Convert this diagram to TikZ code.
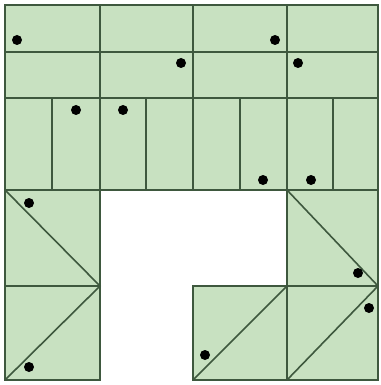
\documentclass[tikz,border=0pt]{standalone}
\usepackage{tikz}

\definecolor{cellgreen}{RGB}{200,225,193}
\definecolor{gridline}{RGB}{62,88,62}

\tikzset{
  grid line/.style={gridline, line width=1.6pt},
  token/.style={fill=black}
}

\begin{document}
\begin{tikzpicture}[x=1pt, y=-1pt]
  \useasboundingbox (0,0) rectangle (380,385);
  % green region
  \fill[cellgreen] (5,5) -- (378,5) -- (378,380) -- (193,380) -- (193,286)
    -- (287,286) -- (287,190) -- (100,190) -- (100,380) -- (5,380) -- cycle;
  % top two rows
  \draw[grid line] (5,52) -- (378,52);
  \draw[grid line] (5,98) -- (378,98);
  \foreach \x in {100,193,287}
    \draw[grid line] (\x,5) -- (\x,98);
  % half columns
  \foreach \x in {52,100,146,193,240,287,333}
    \draw[grid line] (\x,98) -- (\x,190);
  \draw[grid line] (5,190) -- (378,190);
  % lower left block
  \draw[grid line] (5,286) -- (100,286);
  \draw[grid line] (5,190) -- (100,286) -- (5,380);
  % lower right block
  \draw[grid line] (193,286) -- (378,286);
  \draw[grid line] (287,190) -- (287,380);
  \draw[grid line] (287,190) -- (378,286);
  \draw[grid line] (287,286) -- (193,380);
  \draw[grid line] (378,286) -- (287,380);
  % outline
  \draw[grid line, line width=2pt, line join=miter] (5,5) -- (378,5) -- (378,380) -- (193,380) -- (193,286)
    -- (287,286) -- (287,190) -- (100,190) -- (100,380) -- (5,380) -- cycle;
  % tokens
  \foreach \x/\y in {17/40, 181/63, 76/110, 123/110, 275/40, 298/63,
                     263/180, 311/180, 29/203, 29/367, 358/273, 369/308, 205/355}
    \fill[token] (\x,\y) circle (5);
\end{tikzpicture}
\end{document}
